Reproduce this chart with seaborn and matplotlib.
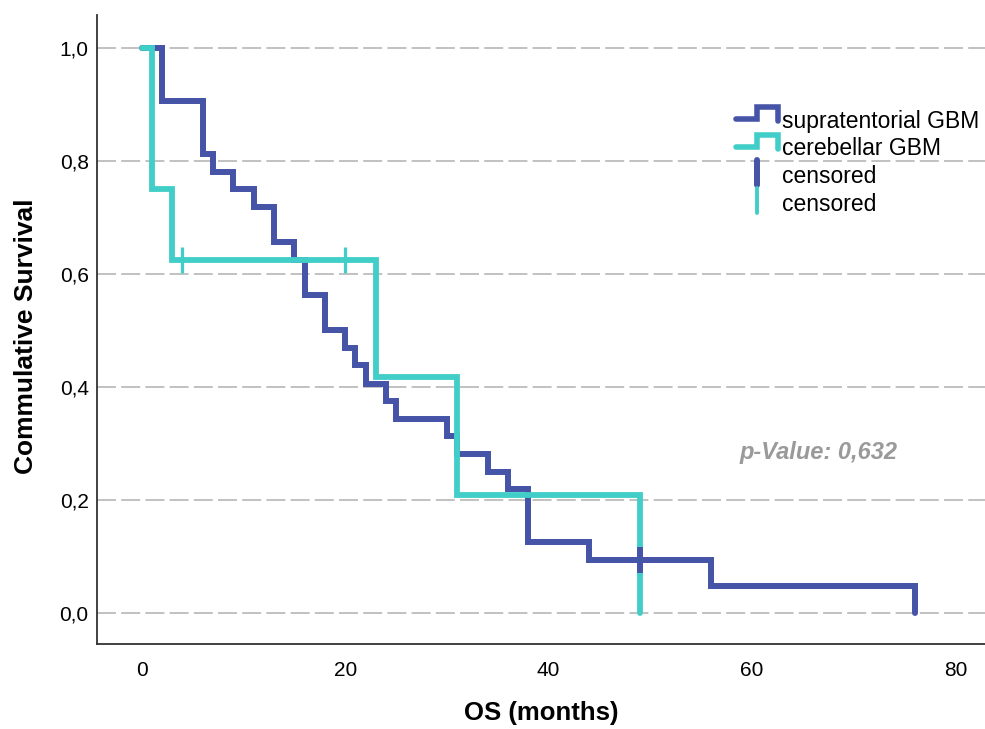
import numpy as np
import pandas as pd
import matplotlib
matplotlib.use('Agg')
import matplotlib.pyplot as plt
import seaborn as sns
from matplotlib.lines import Line2D
from matplotlib.legend_handler import HandlerBase
from matplotlib.ticker import FuncFormatter

# =============================================================================
# DATOS
# =============================================================================
supra_tiempo = [0, 2, 6, 7, 9, 11, 13, 15, 16, 18, 20, 21, 22, 24, 25, 30, 31, 34, 36, 38, 44, 56, 76]
supra_surv = [1.0, 0.906, 0.8125, 0.781, 0.75, 0.719, 0.656, 0.625, 0.5625, 0.5, 0.469, 0.438,
              0.406, 0.375, 0.344, 0.3125, 0.281, 0.25, 0.219, 0.125, 0.094, 0.047, 0.0]
supra_cens_t = [49]
supra_cens_s = [0.094]

cereb_tiempo = [0, 1, 3, 23, 31, 49]
cereb_surv = [1.0, 0.75, 0.625, 0.417, 0.208, 0.0]
cereb_cens_t = [4, 20]
cereb_cens_s = [0.625, 0.625]

x_ticks = [0, 20, 40, 60, 80]
y_ticks = [0.0, 0.2, 0.4, 0.6, 0.8, 1.0]
p_valor = '0,632'

AZUL = '#4654a8'
CIAN = '#42cec8'

df_supra = pd.DataFrame({'t': supra_tiempo, 's': supra_surv})
df_cereb = pd.DataFrame({'t': cereb_tiempo, 's': cereb_surv})

# =============================================================================
# FIGURA
# =============================================================================
sns.set_style('white')
plt.rcParams['font.family'] = ['Liberation Sans', 'DejaVu Sans']
plt.rcParams['text.color'] = 'black'
plt.rcParams['axes.labelcolor'] = 'black'
plt.rcParams['xtick.color'] = 'black'
plt.rcParams['ytick.color'] = 'black'

fig = plt.figure(figsize=(9.85, 7.29), dpi=100)
ax = fig.add_axes([0.0985, 0.1160, 0.9015, 0.8630])

for yv in y_ticks:
    ax.axhline(yv, color='#c2c2c2', lw=1.44, linestyle=(0, (9.5, 2.6)), zorder=0)

sns.lineplot(data=df_supra, x='t', y='s', ax=ax, color=AZUL, lw=4.3, drawstyle='steps-post',
             estimator=None, sort=False, solid_capstyle='round', solid_joinstyle='miter', zorder=2)
sns.lineplot(data=df_cereb, x='t', y='s', ax=ax, color=CIAN, lw=4.2, drawstyle='steps-post',
             estimator=None, sort=False, solid_capstyle='round', solid_joinstyle='miter', zorder=3)

ax.plot(cereb_cens_t, cereb_cens_s, linestyle='none', marker='|', markersize=18.5,
        mew=2.3, color=CIAN, zorder=4)
ax.plot(supra_cens_t, supra_cens_s, linestyle='none', marker='|', markersize=18.5,
        mew=4.3, color=AZUL, zorder=5)

ax.set_xlim(-4.4, 82.9)
ax.set_ylim(-0.0555, 1.0575)
ax.set_xticks(x_ticks)
ax.set_yticks(y_ticks)
ax.yaxis.set_major_formatter(FuncFormatter(lambda v, p: f'{v:.1f}'.replace('.', ',')))
ax.tick_params(axis='both', length=0, labelsize=15)
ax.tick_params(axis='x', pad=12)
ax.tick_params(axis='y', pad=6)

for lado in ['top', 'right']:
    ax.spines[lado].set_visible(False)
for lado in ['left', 'bottom']:
    ax.spines[lado].set_color('#333333')
    ax.spines[lado].set_linewidth(1.3)

ax.set_xlabel('OS (months)', fontsize=18.5, fontweight='bold')
ax.set_ylabel('Commulative Survival', fontsize=19, fontweight='bold')
ax.xaxis.set_label_coords(0.5, -0.09)
ax.yaxis.set_label_coords(-0.066, 0.49)

ax.text(58.8, 0.284, f'p-Value: {p_valor}', fontsize=17, fontweight='bold',
        fontstyle='italic', color='#9a9a9a', ha='left', va='center')


# =============================================================================
# LEYENDA CON ICONOS ESCALONADOS
# =============================================================================
class HandlerEscalon(HandlerBase):
    def create_artists(self, legend, orig_handle, xdescent, ydescent, width, height, fontsize, trans):
        xs = np.array([0.0, 0.5, 0.5, 1.0, 1.0]) * width - xdescent
        ys = np.array([0.55, 0.55, 1.3, 1.3, 0.4]) * height - ydescent
        linea = Line2D(xs, ys, color=orig_handle.get_color(), lw=orig_handle.get_linewidth(),
                       solid_capstyle='round', solid_joinstyle='miter')
        linea.set_transform(trans)
        return [linea]


class HandlerCensura(HandlerBase):
    def create_artists(self, legend, orig_handle, xdescent, ydescent, width, height, fontsize, trans):
        xs = np.array([0.5, 0.5]) * width - xdescent
        ys = np.array([-0.1, 1.45]) * height - ydescent
        linea = Line2D(xs, ys, color=orig_handle.get_color(), lw=orig_handle.get_linewidth(),
                       solid_capstyle='round')
        linea.set_transform(trans)
        return [linea]


h1 = Line2D([], [], color=AZUL, lw=4.0)
h2 = Line2D([], [], color=CIAN, lw=4.0)
h3 = Line2D([], [], color=AZUL, lw=4.3)
h4 = Line2D([], [], color=CIAN, lw=2.8)

leg = ax.legend([h1, h2, h3, h4], ['supratentorial GBM', 'cerebellar GBM', 'censored', 'censored'],
                handler_map={h1: HandlerEscalon(), h2: HandlerEscalon(),
                             h3: HandlerCensura(), h4: HandlerCensura()},
                loc='upper left', bbox_to_anchor=(0.7195, 0.85), frameon=False,
                fontsize=16.5, handlelength=1.85, handletextpad=0.18, labelspacing=0.21,
                borderpad=0, borderaxespad=0)

plt.savefig('out.png', dpi=100)
plt.close()
